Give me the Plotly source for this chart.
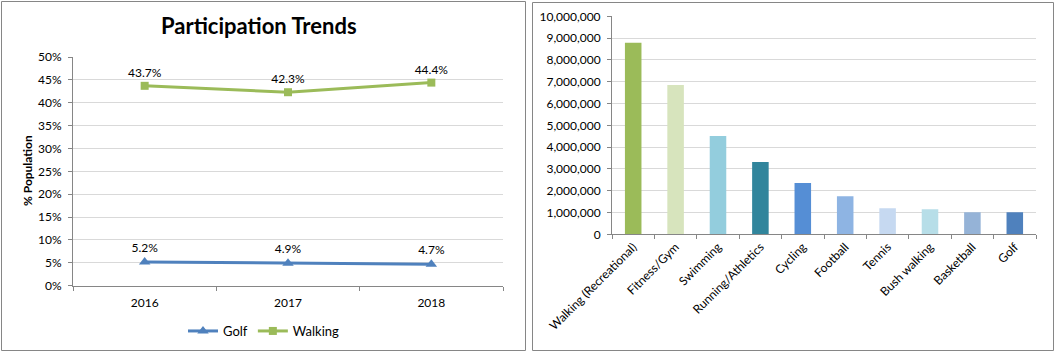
import plotly.graph_objects as go

W, H = 1055, 352

years = ["2016", "2017", "2018"]
golf = [0.052, 0.049, 0.047]
walking = [0.437, 0.423, 0.444]

activities = ["Walking (Recreational)", "Fitness/Gym", "Swimming", "Running/Athletics",
              "Cycling", "Football", "Tennis", "Bush walking", "Basketball", "Golf"]
participants = [8790000, 6850000, 4510000, 3320000, 2350000, 1750000, 1200000, 1150000, 1010000, 1010000]
bar_colors = ["#9BBB59", "#D7E4BD", "#93CDDD", "#31859C", "#558ED5",
              "#8EB4E3", "#C6D9F1", "#B7DEE8", "#95B3D7", "#4F81BD"]

FONT = "Lato"
AX = "#868686"
GRID = "#D9D9D9"


def px(x):
    return x / W


def py(y):
    return 1 - y / H


fig = go.Figure()

fig.add_trace(go.Scatter(
    x=years, y=golf, name="Golf", mode="lines+markers+text",
    line=dict(color="#4F81BD", width=3),
    marker=dict(symbol="triangle-up", size=10, color="#4F81BD"),
    text=[f"{v*100:.1f}%" for v in golf], textposition="top center",
    textfont=dict(family=FONT, size=12, color="#000000"),
    xaxis="x", yaxis="y", cliponaxis=False,
))
fig.add_trace(go.Scatter(
    x=years, y=walking, name="Walking", mode="lines+markers+text",
    line=dict(color="#9BBB59", width=3),
    marker=dict(symbol="square", size=8, color="#9BBB59"),
    text=[f"{v*100:.1f}%" for v in walking], textposition="top center",
    textfont=dict(family=FONT, size=12, color="#000000"),
    xaxis="x", yaxis="y", cliponaxis=False,
))

fig.add_trace(go.Bar(
    x=activities, y=participants, marker=dict(color=bar_colors, line=dict(width=0)),
    showlegend=False, xaxis="x2", yaxis="y2",
))

common = dict(showline=True, linecolor=AX, linewidth=1, ticks="outside", ticklen=4,
              tickcolor=AX, tickfont=dict(family=FONT, size=12, color="#000000"),
              zeroline=False, automargin=False)

fig.update_layout(
    width=W, height=H, margin=dict(l=0, r=0, t=0, b=0, autoexpand=False),
    paper_bgcolor="white", plot_bgcolor="white",
    bargap=0.61,
    xaxis=dict(domain=[px(73), px(503)], type="category", range=[-0.5, 2.5],
               tickson="boundaries", showgrid=False, anchor="y", ticklabelstandoff=6, **common),
    yaxis=dict(domain=[py(285.7), py(57)], range=[0, 0.5], dtick=0.05, tickformat=".0%",
               showgrid=True, gridcolor=GRID, anchor="x", ticklabelstandoff=4, **common),
    xaxis2=dict(domain=[px(612), px(1036)], type="category", range=[-0.5, 9.5],
                tickson="boundaries", showgrid=False, anchor="y2", tickangle=-45, **common),
    yaxis2=dict(domain=[py(234.3), py(16.3)], range=[0, 10000000], dtick=1000000,
                tickformat=",", showgrid=True, gridcolor=GRID, anchor="x2", ticklabelstandoff=4, **common),
    showlegend=True,
    legend=dict(orientation="h", x=px(264), y=py(331), xanchor="center", yanchor="middle",
                font=dict(family=FONT, size=13, color="#000000"), bgcolor="rgba(0,0,0,0)",
                itemwidth=30, tracegroupgap=0),
    annotations=[
        dict(text="<b>Participation Trends</b>", x=px(259), y=py(26), xref="paper", yref="paper",
             showarrow=False, font=dict(family=FONT, size=22, color="#000000"),
             xanchor="center", yanchor="middle"),
        dict(text="<b>% Population</b>", x=px(27), y=py(171), xref="paper", yref="paper",
             showarrow=False, textangle=-90, font=dict(family=FONT, size=12, color="#000000"),
             xanchor="center", yanchor="middle"),
    ],
    shapes=[
        dict(type="rect", xref="paper", yref="paper", x0=px(1.5), x1=px(525.5), y0=py(350.5), y1=py(1.5),
             line=dict(color="#868686", width=1)),
        dict(type="rect", xref="paper", yref="paper", x0=px(532.5), x1=px(1053.5), y0=py(350.5), y1=py(2.5),
             line=dict(color="#868686", width=1)),
    ],
)

fig.write_html("out.html")
